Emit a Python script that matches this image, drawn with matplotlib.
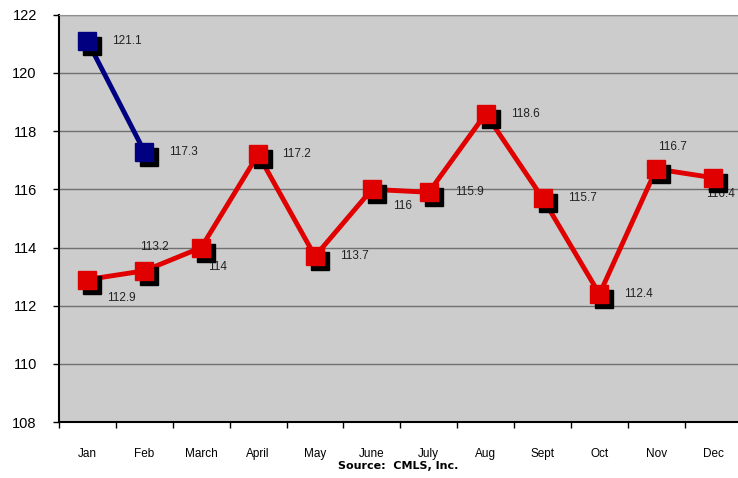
import matplotlib
matplotlib.use("Agg")
import matplotlib.pyplot as plt
from matplotlib.transforms import offset_copy
import numpy as np

plt.rcParams['font.family'] = ['Liberation Sans', 'DejaVu Sans']

months = ['Jan', 'Feb', 'March', 'April', 'May', 'June', 'July', 'Aug',
          'Sept', 'Oct', 'Nov', 'Dec']
prev_year = [121.1, 117.3]
this_year = [112.9, 113.2, 114, 117.2, 113.7, 116, 115.9, 118.6, 115.7,
             112.4, 116.7, 116.4]
prev_labels = ['121.1', '117.3']
this_labels = ['112.9', '113.2', '114', '117.2', '113.7', '116', '115.9',
               '118.6', '115.7', '112.4', '116.7', '116.4']

# label offsets in pixels (dx, dy, ha)
prev_offsets = [(25, 0, 'left'), (25, 0, 'left')]
this_offsets = [(20, -18, 'left'), (10, 24, 'center'), (7, -19, 'left'),
                (24, 0, 'left'), (25, 0, 'left'), (21, -17, 'left'),
                (26, 0, 'left'), (25, 0, 'left'), (25, 0, 'left'),
                (25, 0, 'left'), (16, 22, 'center'), (-7, -16, 'left')]

fig = plt.figure(figsize=(7.38, 4.78), dpi=100)
ax = fig.add_axes([0.080, 0.117, 0.925, 0.852])
ax.set_facecolor('#cccccc')

x = np.arange(len(months))
xp = x[:len(prev_year)]

shadow = offset_copy(ax.transData, fig=fig, x=5, y=-5, units='dots')
ms = 13.5

ax.plot(xp, prev_year, color='#000080', lw=3.5, zorder=3)
ax.plot(x, this_year, color='#e00000', lw=3.5, zorder=3)
ax.plot(xp, prev_year, 's', color='black', ms=ms, transform=shadow, zorder=4)
ax.plot(x, this_year, 's', color='black', ms=ms, transform=shadow, zorder=4)
ax.plot(xp, prev_year, 's', color='#000080', ms=ms, zorder=5)
ax.plot(x, this_year, 's', color='#e00000', ms=ms, zorder=5)

for xi, yi, lab, (dx, dy, ha) in zip(xp, prev_year, prev_labels, prev_offsets):
    ax.annotate(lab, (xi, yi), xytext=(dx, dy), textcoords='offset pixels',
                ha=ha, va='center', fontsize=8.5, color='#222222', zorder=6)
for xi, yi, lab, (dx, dy, ha) in zip(x, this_year, this_labels, this_offsets):
    ax.annotate(lab, (xi, yi), xytext=(dx, dy), textcoords='offset pixels',
                ha=ha, va='center', fontsize=8.5, color='#222222', zorder=3.5)

ax.set_xlim(-0.5, len(months) - 0.5)
ax.set_ylim(108, 122)
ax.set_yticks(np.arange(108, 123, 2))
ax.tick_params(axis='y', labelsize=10.5, length=4, width=1, pad=12, direction='out')
ax.yaxis.grid(True, color='#707070', lw=1)
ax.set_axisbelow(True)

ax.set_xticks(x)
ax.set_xticklabels(months)
ax.set_xticks(np.arange(-0.5, len(months), 1), minor=True)
ax.tick_params(axis='x', which='major', length=0, labelsize=8.5, pad=19)
ax.tick_params(axis='x', which='minor', length=4, width=1, direction='out')

ax.spines['left'].set_linewidth(1.5)
ax.spines['bottom'].set_linewidth(1.5)
ax.spines['top'].set_color('#909090')
ax.spines['right'].set_visible(False)

fig.text(0.540, 0.025, 'Source:  CMLS, Inc.', ha='center', va='center',
         fontsize=8, fontweight='bold', family='DejaVu Sans')

fig.savefig('out.png', dpi=100)
